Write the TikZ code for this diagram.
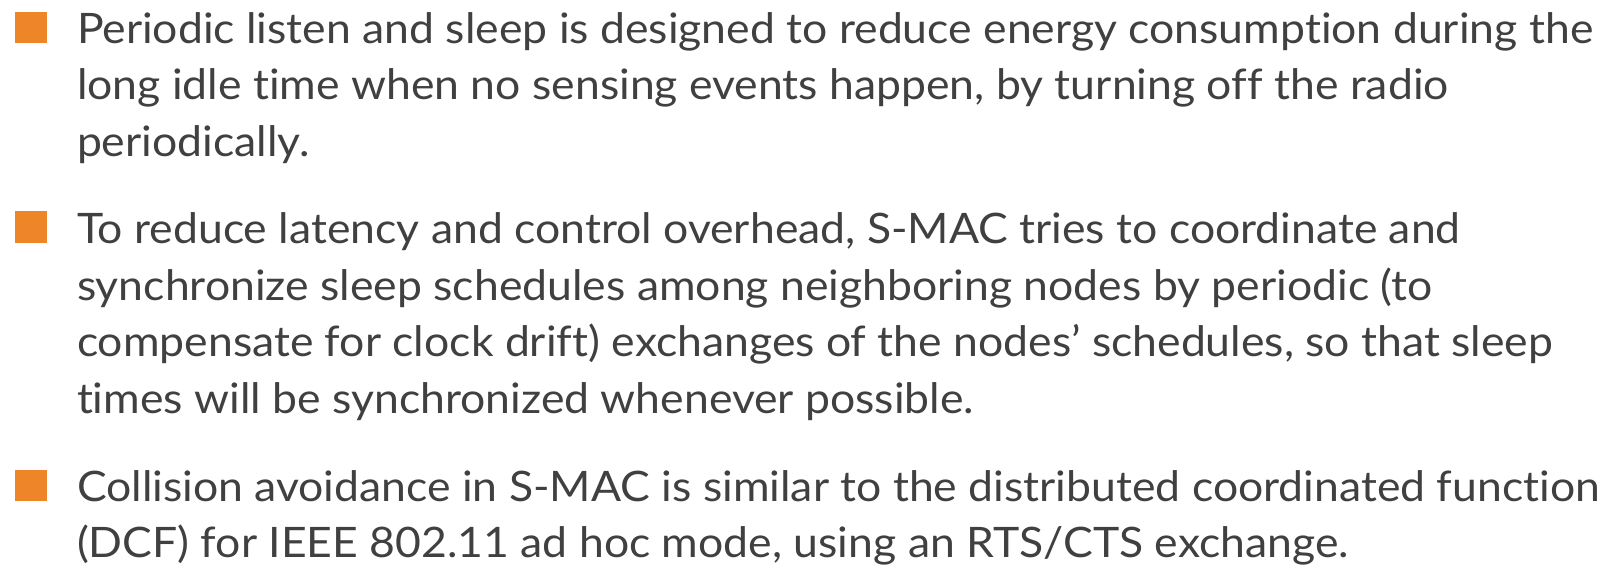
\documentclass[tikz,border=0pt]{standalone}
\usepackage{fontspec}
\setmainfont[FakeStretch=1.06,Ligatures=NoCommon]{Lato}
\definecolor{bulletorange}{HTML}{EE8629}
\definecolor{textgray}{HTML}{404040}
\begin{document}
\begin{tikzpicture}[x=1pt,y=-1pt,
  txt/.style={anchor=base west,inner sep=0pt,outer sep=0pt,text=textgray,font=\fontsize{42}{50}\selectfont},
  bul/.style={fill=bulletorange,draw=none,minimum width=31.5pt,minimum height=31.5pt,inner sep=0pt,anchor=north west}]
\useasboundingbox (0,0) rectangle (1621,567);
\node[bul] (b1) at (15,11.7) {};
\node[bul] (b2) at (15,211) {};
\node[bul] (b3) at (15,469.5) {};
\node[txt] (l1) at (77,43.3) {Periodic listen and sleep is designed to reduce energy consumption during the};
\node[txt] (l2) at (77,100) {long idle time when no sensing events happen, by turning off the radio};
\node[txt] (l3) at (77,156.7) {periodically.};
\node[txt] (l4) at (77,243.3) {To reduce latency and control overhead, S-MAC tries to coordinate and};
\node[txt] (l5) at (77,300) {synchronize sleep schedules among neighboring nodes by periodic (to};
\node[txt] (l6) at (77,356.7) {compensate for clock drift) exchanges of the nodes’ schedules, so that sleep};
\node[txt] (l7) at (77,413.3) {times will be synchronized whenever possible.};
\node[txt] (l8) at (77,501) {Collision avoidance in S-MAC is similar to the distributed coordinated function};
\node[txt] (l9) at (77,557.7) {(DCF) for IEEE 802.11 ad hoc mode, using an RTS/CTS exchange.};
\end{tikzpicture}
\end{document}
